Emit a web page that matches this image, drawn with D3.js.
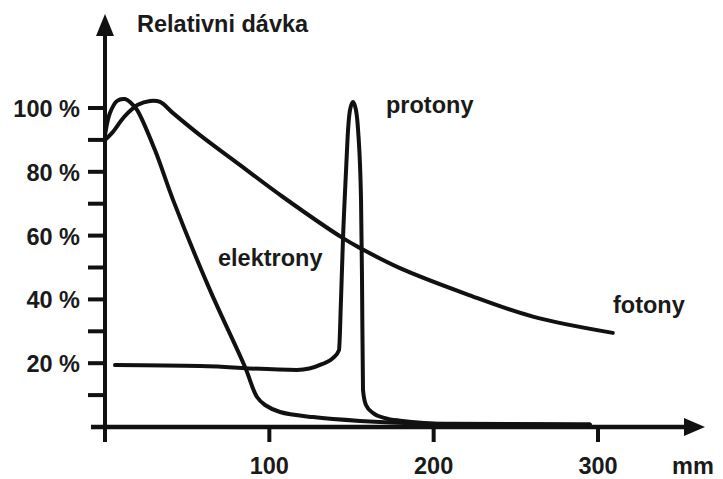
<!DOCTYPE html>
<html>
<head>
<meta charset="utf-8">
<script src="https://cdn.jsdelivr.net/npm/d3@7"></script>
<style>
  body { margin: 0; background: #fff; }
  text { font-family: "Liberation Sans", Arial, sans-serif; font-weight: bold; fill: #1a1a1a; }
</style>
</head>
<body>
<div></div>
<script>
// datos: [mm, % dosis]
var elektrony = [[0,91.5],[3,98.4],[7.3,102.2],[12.2,102.8],[15.8,101.6],[19.5,99.4],[30.4,86.8],[41.4,71.2],
  [63.3,43.6],[85.2,18.8],[92.5,9.4],[97.4,6.9],[106.5,4.7],[126.6,3.1],[155.2,1.9],[191.7,1.1],[295,0.8]];
var fotony = [[0,90],[4.3,92.2],[12.2,97.5],[20,101],[27.4,102.2],[33.5,101.9],[41.4,98.4],[57.8,91.5],
  [82.2,82.1],[108.3,72.1],[144.8,59.2],[155.2,56.1],[179.5,49.8],[220.3,41.6],[260.4,34.6],[309,29.5]];
var protony = [[6.1,19.4],[57.8,19.1],[116.8,17.9],[132,19.7],[138.7,21.6],[142.4,24.1],[143.6,39.8],
  [144.8,58.6],[146.7,80.6],[147.9,93.1],[149.1,99.4],[150.9,101.9],[152.7,99.4],[154,93.1],[155.8,71.2],
  [156.4,46.1],[157,11.6],[158.8,6.9],[163.1,4.4],[170.4,2.8],[179.5,2],[210,1],[295,0.8]];

var xTicks = [0, 100, 200, 300];
var xLabels = ['100', '200', '300'];
var yTicks = [10, 20, 30, 40, 50, 60, 70, 80, 90, 100];
var yLabels = [20, 40, 60, 80, 100];

var w = 723
var h = 479
var fs = '23.5px'

var svg = d3.select('div')
    .append('svg')
    .attr('width', w)
    .attr('height', h);

// escalas
var x = d3.scaleLinear().domain([0, 300]).range([105, 598]);
var y = d3.scaleLinear().domain([0, 100]).range([427, 108]);

var lineSuave = d3.line()
    .x((d) => x(d[0]))
    .y((d) => y(d[1]))
    .curve(d3.curveCatmullRom.alpha(0.5));

var lineMono = d3.line()
    .x((d) => x(d[0]))
    .y((d) => y(d[1]))
    .curve(d3.curveMonotoneX);

// curvas
[[elektrony, lineSuave], [fotony, lineSuave], [protony, lineMono]].forEach((s) => {
    svg.append('path')
        .datum(s[0])
        .attr('d', s[1])
        .attr('fill', 'none')
        .attr('stroke', '#111')
        .attr('stroke-width', 4)
        .attr('stroke-linejoin', 'round')
        .attr('stroke-linecap', 'round');
});

// eje y
svg.append('line')
    .attr('x1', x(0)).attr('x2', x(0))
    .attr('y1', 441).attr('y2', 30)
    .attr('stroke', '#111').attr('stroke-width', 4);
svg.append('path')
    .attr('d', 'M' + (x(0) - 9) + ',36 L' + x(0) + ',14 L' + (x(0) + 9) + ',36 Z')
    .attr('fill', '#111');

svg.selectAll('.ytick')
    .data(yTicks)
    .enter()
    .append('line')
    .attr('x1', 88).attr('x2', x(0))
    .attr('y1', (d) => y(d)).attr('y2', (d) => y(d))
    .attr('stroke', '#111').attr('stroke-width', 4);

svg.selectAll('.ylab')
    .data(yLabels)
    .enter()
    .append('text')
    .attr('x', 80)
    .attr('y', (d) => y(d) + 9)
    .attr('text-anchor', 'end')
    .attr('font-size', fs)
    .text((d) => d + ' %');

// eje x
svg.append('line')
    .attr('x1', 91).attr('x2', 690)
    .attr('y1', y(0)).attr('y2', y(0))
    .attr('stroke', '#111').attr('stroke-width', 4.5);
svg.append('path')
    .attr('d', 'M684,' + (y(0) - 9) + ' L705,' + y(0) + ' L684,' + (y(0) + 9) + ' Z')
    .attr('fill', '#111');

svg.selectAll('.xtick')
    .data(xTicks)
    .enter()
    .append('line')
    .attr('x1', (d) => x(d)).attr('x2', (d) => x(d))
    .attr('y1', y(0)).attr('y2', 442)
    .attr('stroke', '#111').attr('stroke-width', 4);

svg.selectAll('.xlab')
    .data(xLabels)
    .enter()
    .append('text')
    .attr('x', (d) => x(+d))
    .attr('y', 474)
    .attr('text-anchor', 'middle')
    .attr('font-size', fs)
    .text((d) => d);

// textos
svg.append('text').attr('x', 672).attr('y', 474).attr('font-size', fs).text('mm');
svg.append('text').attr('x', 137).attr('y', 32).attr('font-size', fs).text('Relativni dávka');
svg.append('text').attr('x', 386).attr('y', 113).attr('font-size', fs).text('protony');
svg.append('text').attr('x', 218).attr('y', 266).attr('font-size', fs).text('elektrony');
svg.append('text').attr('x', 613).attr('y', 313).attr('font-size', fs).text('fotony');
</script>
</body>
</html>
